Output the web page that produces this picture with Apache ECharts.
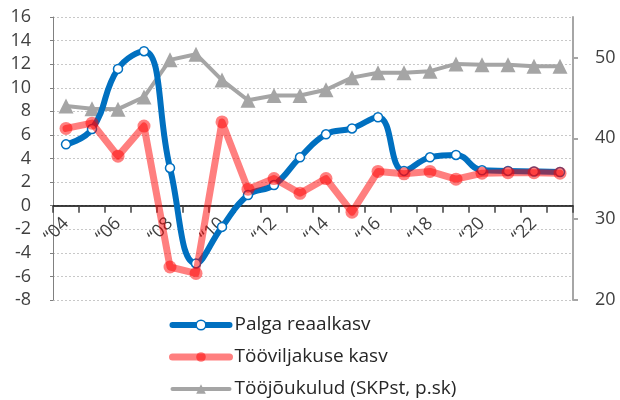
<!DOCTYPE html>
<html>
<head>
<meta charset="utf-8">
<script src="https://cdn.jsdelivr.net/npm/echarts@6/dist/echarts.min.js"></script>
<style>html,body{margin:0;padding:0;background:#fff}#c{width:620px;height:400px}</style>
</head>
<body>
<div id="c"></div>
<script>
var years = ['“04','“05','“06','“07','“08','“09','“10','“11','“12','“13','“14','“15','“16','“17','“18','“19','“20','“21','“22','“23'];
var palgaReaalkasv = [5.2, 6.5, 11.6, 13.1, 3.2, -4.9, -1.8, 0.9, 1.75, 4.1, 6.05, 6.55, 7.5, 2.95, 4.1, 4.3, 3.0, 2.95, 2.9, 2.85];
var tooviljakuseKasv = [6.55, 7.0, 4.2, 6.75, -5.2, -5.75, 7.1, 1.4, 2.3, 1.05, 2.3, -0.55, 2.9, 2.7, 2.9, 2.25, 2.75, 2.8, 2.8, 2.75];
var toojoukulud = [44.0, 43.65, 43.6, 45.1, 49.7, 50.4, 47.2, 44.7, 45.3, 45.3, 46.0, 47.5, 48.1, 48.1, 48.3, 49.2, 49.1, 49.1, 48.9, 48.9];
var seriesNames = ['Palga reaalkasv', 'Tööviljakuse kasv', 'Tööjõukulud (SKPst, p.sk)'];
var leftTicks = {min: -8, max: 16, interval: 2};
var rightTicks = [20, 30, 40, 50];

var FONT = '"Open Sans", "Noto Sans", sans-serif';
var GRID_TOP = 17, GRID_BOTTOM = 100, H = 400;
var plotH = H - GRID_TOP - GRID_BOTTOM;
var zeroOffset = -plotH * (0 - leftTicks.min) / (leftTicks.max - leftTicks.min);

var BLUE = '#0070c0', PINK = 'rgba(255,0,0,0.5)', GRAY = '#a5a5a5';

var chart = echarts.init(document.getElementById('c'), null, {renderer: 'canvas'});
chart.setOption({
  animation: false,
  textStyle: {fontFamily: FONT},
  grid: {left: 53, right: 47, top: GRID_TOP, bottom: GRID_BOTTOM, containLabel: false},
  legend: {
    orient: 'vertical', left: 164, top: 308, height: 92,
    itemWidth: 57, itemHeight: 12, itemGap: 8,
    textStyle: {fontFamily: FONT, fontSize: 19, lineHeight: 24, color: '#262626'},
    data: [
      {name: seriesNames[0], lineStyle: {width: 6, color: BLUE, cap: 'round'}, itemStyle: {color: '#fff', borderColor: BLUE, borderWidth: 1.5}},
      {name: seriesNames[1], lineStyle: {width: 7, color: PINK, cap: 'round'}, itemStyle: {color: PINK, borderWidth: 0}},
      {name: seriesNames[2], lineStyle: {width: 4, color: GRAY, cap: 'round'}, itemStyle: {color: GRAY, borderWidth: 0}}
    ]
  },
  xAxis: {
    type: 'category', data: years, boundaryGap: true, position: 'bottom', offset: zeroOffset,
    axisLine: {onZero: false, lineStyle: {color: '#000', width: 1.5}},
    axisTick: {show: true, interval: 0, length: 7, lineStyle: {color: '#404040', width: 1.5}},
    axisLabel: {interval: 1, rotate: 45, margin: 15, fontFamily: FONT, fontSize: 18, color: '#404040'},
    splitLine: {show: false}
  },
  yAxis: [{
    type: 'value', min: leftTicks.min, max: leftTicks.max, interval: leftTicks.interval,
    axisLine: {show: true, lineStyle: {color: '#808080', width: 1, type: 'solid'}},
    axisTick: {show: true, length: 3, lineStyle: {color: '#808080'}},
    axisLabel: {margin: 22, fontFamily: FONT, fontSize: 18, color: '#404040'},
    splitLine: {show: true, lineStyle: {color: '#c8c8c8', type: [2, 2], width: 1}}
  }, {
    type: 'value', min: 20, max: 55, interval: 10, position: 'right',
    axisLine: {show: true, lineStyle: {color: '#a6a6a6', width: 2}},
    axisTick: {show: true, length: 5, customValues: rightTicks, lineStyle: {color: '#a6a6a6', width: 2}},
    axisLabel: {margin: 22, customValues: rightTicks, fontFamily: FONT, fontSize: 18, color: '#404040'},
    splitLine: {show: false}
  }],
  series: [{
    name: seriesNames[0], type: 'line', yAxisIndex: 0, data: palgaReaalkasv,
    smooth: 0.45, symbol: 'circle', symbolSize: 9,
    lineStyle: {color: BLUE, width: 6, cap: 'round', join: 'round'},
    itemStyle: {color: '#ffffff', borderColor: BLUE, borderWidth: 1.5},
    z: 2
  }, {
    name: seriesNames[1], type: 'line', yAxisIndex: 0, data: tooviljakuseKasv,
    symbol: 'circle', symbolSize: 13,
    lineStyle: {color: PINK, width: 7, cap: 'round', join: 'round'},
    itemStyle: {color: PINK, borderWidth: 0},
    z: 3
  }, {
    name: seriesNames[2], type: 'line', yAxisIndex: 1, data: toojoukulud,
    symbol: 'triangle', symbolSize: 15,
    lineStyle: {color: GRAY, width: 4, cap: 'round', join: 'round'},
    itemStyle: {color: GRAY},
    z: 1
  }]
});
</script>
</body>
</html>
